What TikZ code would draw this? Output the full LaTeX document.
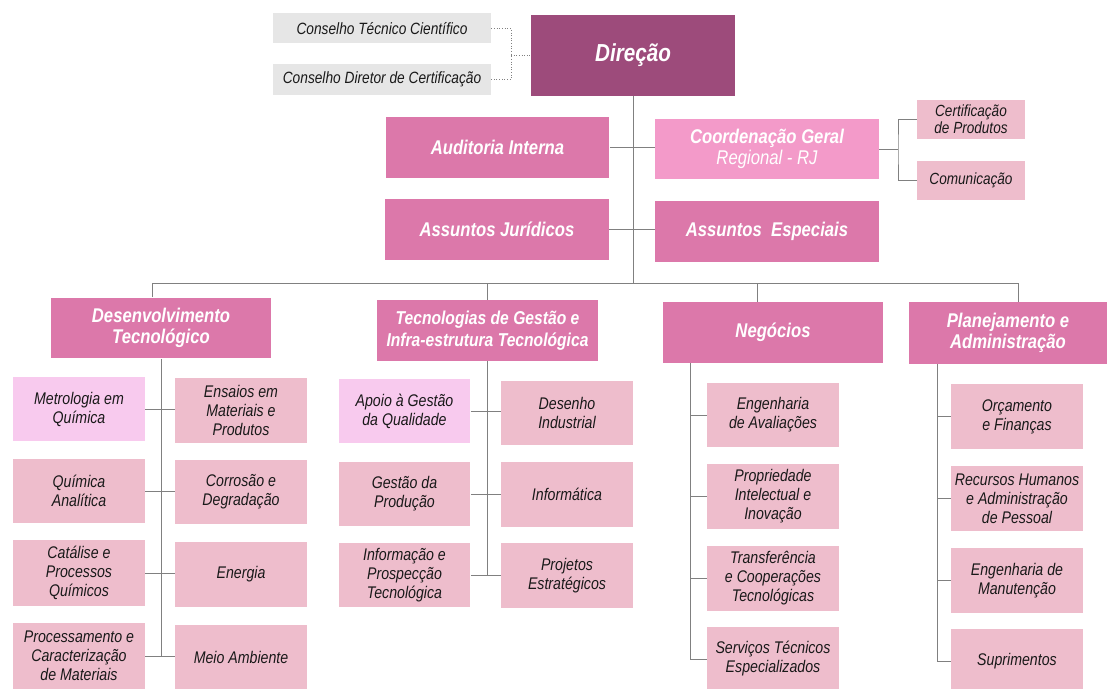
\documentclass[tikz,border=0pt]{standalone}
\usepackage{fontspec}
\setmainfont{Liberation Sans}[FakeStretch=0.84]
\usepackage{tikz}
\usetikzlibrary{calc}

\definecolor{dirpink}{HTML}{9D4B7B}
\definecolor{mainpink}{HTML}{DC78AA}
\definecolor{lightpink}{HTML}{F39AC9}
\definecolor{unitpink}{HTML}{EEBDCC}
\definecolor{lilac}{HTML}{F8CAEE}
\definecolor{boardgray}{HTML}{E6E6E6}
\definecolor{linegray}{HTML}{808080}

\begin{document}
\begin{tikzpicture}[
x=0.02cm, y=-0.02cm,
board/.style = {fill=boardgray, minimum width=4.36cm, minimum height=0.6cm, inner sep=0pt,
  font=\fontsize{9.3}{10}\selectfont\itshape, text=black!90},
top box/.style = {fill=dirpink, minimum width=4.08cm, minimum height=1.62cm, inner sep=0pt,
  text=white, font=\fontsize{14}{16}\selectfont\bfseries\itshape},
staff box/.style = {fill=mainpink, minimum width=4.48cm, minimum height=1.22cm, inner sep=0pt,
  align=center, text=white, font=\fontsize{11.3}{12.2}\selectfont\bfseries\itshape},
area box/.style = {staff box, minimum width=4.4cm},
side box/.style = {fill=unitpink, minimum width=2.16cm, minimum height=0.78cm, inner sep=0pt,
  align=center, font=\fontsize{9.2}{9.8}\selectfont\itshape, text=black!90},
unit box/.style = {fill=unitpink, minimum width=2.64cm, minimum height=1.3cm, inner sep=0pt,
  align=center, font=\fontsize{9.6}{10.8}\selectfont\itshape, text=black!90},
link/.style = {draw=linegray, line width=0.5pt},
board link/.style = {link, densely dotted}
]
\useasboundingbox (0,0) rectangle (1107,689);

% direction and boards
\node (dir) at (633,55.5) [top box] {Direção};
\node (ctc) at (382,28.5) [board] {Conselho Técnico Científico};
\node (cdc) at (382,79.5) [board, minimum height=0.62cm] {Conselho Diretor de Certificação};

\coordinate (bj) at (511,55.5);
\draw[board link] (ctc.east) -| (bj) |- (cdc.east);
\draw[board link] (bj) -- (dir.west);

% staff
\node (aud) at (497.5,147.5) [staff box] {Auditoria Interna};
\node (coord) at (767,149) [staff box, fill=lightpink] {Coordenação Geral\\\mdseries Regional - RJ};
\node (jur) at (497,229.5) [staff box] {Assuntos Jurídicos};
\node (esp) at (767,231.5) [staff box] {Assuntos\ \ Especiais};

\node (cert) at (971,119.5) [side box] {Certificação\\de Produtos};
\node (com) at (971,180.5) [side box] {Comunicação};

\coordinate (cj) at (898,149);
\draw[link] (coord.east) -- (cj);
\draw[link] (cert.west) -| (cj) |- (com.west);

\draw[link] (aud.east) -- (aud.east -| coord.west);
\draw[link] (jur.east) -- (jur.east -| esp.west);

% areas
\node (dt) at (161,328) [area box] {Desenvolvimento\\Tecnológico};
\node (tg) at (487.5,330.5) [area box, minimum width=4.42cm, font=\fontsize{10.6}{12.2}\selectfont\bfseries\itshape] {Tecnologias de Gestão e\\Infra-estrutura Tecnológica};
\node (neg) at (773,332.5) [area box] {Negócios};
\node (pa) at (1008,333) [area box, minimum width=3.96cm, minimum height=1.24cm] {Planejamento e\\Administração};

\coordinate (bus) at (633,283);
\coordinate (dttop) at ($(dt.north)+(-9,0)$);
\coordinate (negtop) at ($(neg.north)+(-16,0)$);
\coordinate (patop) at ($(pa.north)+(10,0)$);
\draw[link] (dir.south) -- (bus);
\draw[link] (dttop) |- (bus -| patop) -- (patop);
\draw[link] (tg.north) -- (tg.north |- bus);
\draw[link] (negtop) -- (negtop |- bus);

% desenvolvimento tecnologico
\node (dt1) at (79,409) [unit box, fill=lilac] {Metrologia em\\Química};
\node (dt2) at (241,410.5) [unit box] {Ensaios em\\Materiais e\\Produtos};
\node (dt3) at (79,491) [unit box] {Química\\Analítica};
\node (dt4) at (241,492) [unit box] {Corrosão e\\Degradação};
\node (dt5) at (79,573) [unit box, minimum height=1.32cm] {Catálise e\\Processos\\Químicos};
\node (dt6) at (241,574.5) [unit box] {Energia};
\node (dt7) at (79,656) [unit box, minimum height=1.32cm] {Processamento e\\Caracterização\\de Materiais};
\node (dt8) at (241,657) [unit box] {Meio Ambiente};

\draw[link] (dt.south) -- (dt.south |- dt7.east);
\draw[link] (dt1.east) -- (dt2.west |- dt1.east);
\draw[link] (dt3.east) -- (dt4.west |- dt3.east);
\draw[link] (dt5.east) -- (dt6.west |- dt5.east);
\draw[link] (dt7.east) -- (dt8.west |- dt7.east);

% tecnologias de gestao
\node (tg1) at (404.5,411) [unit box, fill=lilac] {Apoio à Gestão\\da Qualidade};
\node (tg2) at (567,413) [unit box] {Desenho\\Industrial};
\node (tg3) at (404.5,494) [unit box] {Gestão da\\Produção};
\node (tg4) at (567,494.5) [unit box] {Informática};
\node (tg5) at (404.5,575) [unit box] {Informação e\\Prospecção\\Tecnológica};
\node (tg6) at (567,575.5) [unit box] {Projetos\\Estratégicos};

\draw[link] (tg.south) -- (tg.south |- tg5.east);
\draw[link] (tg1.east) -- (tg2.west |- tg1.east);
\draw[link] (tg3.east) -- (tg4.west |- tg3.east);
\draw[link] (tg5.east) -- (tg6.west |- tg5.east);

% negocios
\node (ng1) at (773,415) [unit box] {Engenharia\\de Avaliações};
\node (ng2) at (773,496.5) [unit box] {Propriedade\\Intelectual e\\Inovação};
\node (ng3) at (773,578.5) [unit box] {Transferência\\e Cooperações\\Tecnológicas};
\node (ng4) at (773,659) [unit box] {Serviços Técnicos\\Especializados};

\coordinate (ngs) at (690,363);
\draw[link] (ngs) |- (ng4.west);
\draw[link] (ng1.west) -- (ng1.west -| ngs);
\draw[link] (ng2.west) -- (ng2.west -| ngs);
\draw[link] (ng3.west) -- (ng3.west -| ngs);

% planejamento e administracao
\node (pa1) at (1017,416.5) [unit box] {Orçamento\\e Finanças};
\node (pa2) at (1017,498.5) [unit box] {Recursos Humanos\\e Administração\\de Pessoal};
\node (pa3) at (1017,580.5) [unit box] {Engenharia de\\Manutenção};
\node (pa4) at (1017,661) [unit box] {Suprimentos};

\coordinate (pas) at (937,364);
\draw[link] (pas) |- (pa4.west);
\draw[link] (pa1.west) -- (pa1.west -| pas);
\draw[link] (pa2.west) -- (pa2.west -| pas);
\draw[link] (pa3.west) -- (pa3.west -| pas);
\end{tikzpicture}
\end{document}
